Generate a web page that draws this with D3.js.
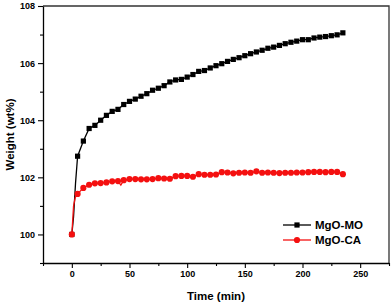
<!DOCTYPE html>
<html>
<head>
<meta charset="utf-8">
<script src="https://cdn.jsdelivr.net/npm/d3@7"></script>
<style>
  body { margin: 0; background: #fff; }
  svg { display: block; font-family: Arial, "Liberation Sans", sans-serif; }
</style>
</head>
<body>
<div id="chart"></div>
<script>
// Marker times (min), shared by both series
var times = [0, 5, 10, 15, 20, 25, 30, 35, 40, 45, 50, 55, 60, 65, 70, 75, 80, 85, 90, 95,
             100, 105, 110, 115, 120, 125, 130, 135, 140, 145, 150, 155, 160, 165, 170, 175,
             180, 185, 190, 195, 200, 205, 210, 215, 220, 225, 230, 235];

// MgO-MO weight (wt%) at the marker times
var moWeight = [100.0, 102.74, 103.27, 103.71, 103.82, 104.0, 104.17, 104.31, 104.38, 104.55,
                104.66, 104.74, 104.84, 104.93, 105.05, 105.12, 105.21, 105.34, 105.41, 105.43,
                105.51, 105.6, 105.71, 105.74, 105.83, 105.91, 105.98, 106.06, 106.13, 106.19,
                106.26, 106.33, 106.39, 106.45, 106.52, 106.56, 106.62, 106.68, 106.73, 106.77,
                106.82, 106.82, 106.88, 106.91, 106.93, 106.96, 106.99, 107.06];

// MgO-CA weight (wt%) at the marker times
var caWeight = [100.0, 101.42, 101.63, 101.74, 101.79, 101.80, 101.82, 101.86, 101.87, 101.90,
                101.94, 101.94, 101.93, 101.93, 101.94, 101.97, 101.96, 101.95, 102.04, 102.05,
                102.05, 102.02, 102.11, 102.09, 102.09, 102.10, 102.18, 102.17, 102.14, 102.16,
                102.17, 102.16, 102.21, 102.16, 102.17, 102.16, 102.15, 102.16, 102.16, 102.17,
                102.17, 102.18, 102.19, 102.19, 102.18, 102.19, 102.19, 102.11];

var moExtraT = [1.5, 3.2, 4.3];
var moExtraW = [100.62, 101.79, 102.37];
var caExtraT = [1.5, 3.0, 42.5];
var caExtraW = [101.0, 101.3, 101.73];

var xTicks = [0, 50, 100, 150, 200, 250];
var yTicks = [100, 102, 104, 106, 108];

var width = 392, height = 303;
var margin = {top: 6, right: 3, bottom: 40, left: 43};

var svg = d3.select("#chart").append("svg")
    .attr("width", width)
    .attr("height", height);

var x = d3.scaleLinear().domain([-25, 275]).range([margin.left, width - margin.right]);
var y = d3.scaleLinear().domain([99, 108]).range([height - margin.bottom, margin.top]);

// merge marker points with line-only points, sorted by time
function lineData(ts, ws, et, ew){
    var pts = ts.map(function(t, i){ return [t, ws[i]]; });
    et.forEach(function(t, i){ pts.push([t, ew[i]]); });
    return pts.sort(function(a, b){ return a[0] - b[0]; });
}

var line = d3.line()
    .x(function(d){ return x(d[0]); })
    .y(function(d){ return y(d[1]); });

// frame: top and right
svg.append("path")
    .attr("d", "M" + x(-25) + "," + y(108) + "H" + x(275) + "V" + y(99))
    .attr("fill", "none")
    .attr("stroke", "#333")
    .attr("stroke-width", 1.3);

// axes with minor ticks
var xMinor = d3.range(-25, 276, 25).filter(function(v){ return v % 50 !== 0; });
var yMinor = d3.range(99, 108, 2);

var gx = svg.append("g").attr("transform", "translate(0," + y(99) + ")");
gx.call(d3.axisBottom(x).tickValues(xTicks).tickSize(5).tickSizeOuter(0).tickPadding(3));
gx.append("g").call(d3.axisBottom(x).tickValues(xMinor).tickSize(3).tickFormat(""))
    .select(".domain").remove();

var gy = svg.append("g").attr("transform", "translate(" + x(-25) + ",0)");
gy.call(d3.axisLeft(y).tickValues(yTicks).tickSize(5).tickSizeOuter(0).tickPadding(3));
gy.append("g").call(d3.axisLeft(y).tickValues(yMinor).tickSize(3).tickFormat(""))
    .select(".domain").remove();

svg.selectAll(".domain").attr("stroke", "#000").attr("stroke-width", 1.3);
svg.selectAll(".tick line").attr("stroke", "#000").attr("stroke-width", 1.1);
svg.selectAll(".tick text")
    .attr("font-family", "Arial, 'Liberation Sans', sans-serif")
    .attr("font-size", 9)
    .attr("font-weight", "bold")
    .attr("fill", "#000");

// axis titles
svg.append("text")
    .attr("x", 216).attr("y", 300)
    .attr("text-anchor", "middle")
    .attr("font-size", 11.5).attr("font-weight", "bold")
    .text("Time (min)");

svg.append("text")
    .attr("transform", "translate(14," + ((margin.top + height - margin.bottom) / 2) + ") rotate(-90)")
    .attr("text-anchor", "middle")
    .attr("font-size", 11.5).attr("font-weight", "bold")
    .text("Weight (wt%)");

// series
var series = [
    {name: "MgO-MO", color: "#000", shape: "square", w: moWeight, et: moExtraT, ew: moExtraW},
    {name: "MgO-CA", color: "#f41010", shape: "circle", w: caWeight, et: caExtraT, ew: caExtraW}
];

function drawMarker(g, s, cx, cy){
    if (s.shape === "square") {
        g.append("rect")
            .attr("x", cx - 2.6).attr("y", cy - 2.6)
            .attr("width", 5.2).attr("height", 5.2)
            .attr("fill", s.color);
    } else {
        g.append("circle")
            .attr("cx", cx).attr("cy", cy).attr("r", 3.1)
            .attr("fill", s.color);
    }
}

series.forEach(function(s){
    var g = svg.append("g");
    g.append("path")
        .datum(lineData(times, s.w, s.et, s.ew))
        .attr("d", line)
        .attr("fill", "none")
        .attr("stroke", s.color)
        .attr("stroke-width", 1.3);
    times.forEach(function(t, i){ drawMarker(g, s, x(t), y(s.w[i])); });
});

// legend
var legend = svg.append("g");
series.forEach(function(s, i){
    var ly = 225 + i * 15;
    legend.append("line")
        .attr("x1", 283).attr("x2", 311)
        .attr("y1", ly).attr("y2", ly)
        .attr("stroke", s.color).attr("stroke-width", 1.3);
    drawMarker(legend, s, 297, ly);
    legend.append("text")
        .attr("x", 315).attr("y", ly + 4)
        .attr("font-size", 11.5).attr("font-weight", "bold")
        .text(s.name);
});
</script>
</body>
</html>
